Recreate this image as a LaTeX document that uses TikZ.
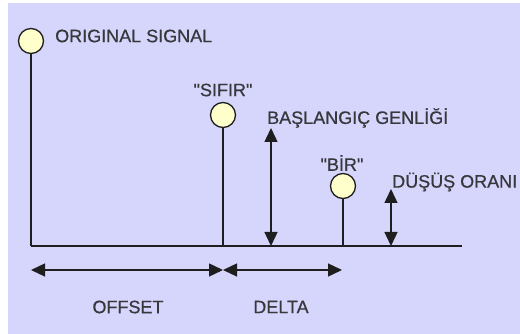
\documentclass[tikz,border=0pt]{standalone}
\usepackage{fontspec}
\setmainfont{Liberation Sans}[FakeBold=0.6]
\usetikzlibrary{arrows.meta}
\definecolor{bg}{RGB}{214,214,252}
\definecolor{dot}{RGB}{255,255,204}
\definecolor{ink}{RGB}{30,30,30}
\definecolor{txt}{RGB}{55,55,60}
\tikzset{
  sig/.style={circle, draw=ink, line width=1.3pt, fill=dot, minimum size=25pt, inner sep=0pt},
  stem/.style={draw=ink, line width=1.6pt},
  lbl/.style={text=txt, font=\fontsize{18}{19}\selectfont, inner sep=0pt},
  dim/.style={draw=ink, line width=1.4pt, {Triangle[length=14pt,width=13pt]}-{Triangle[length=14pt,width=13pt]}},
}
\begin{document}
\begin{tikzpicture}[x=1pt, y=-1pt]
\useasboundingbox (0,0) rectangle (520,334);
\fill[white] (0,0) rectangle (520,334);
\fill[bg] (8,3) rectangle (520,334);

% baseline
\coordinate (b0) at (31,246);
\coordinate (bend) at (462,246);
\draw[stem] (b0) -- (bend);

% stems and circles
\node[sig] (c1) at (31,41) {};
\node[sig] (c2) at (223,115) {};
\node[sig] (c3) at (343,186) {};
\coordinate (s1) at (31,246);
\coordinate (s2) at (223,246);
\coordinate (s3) at (343,246);
\draw[stem] (c1.south) -- (s1);
\draw[stem] (c2.south) -- (s2);
\draw[stem] (c3.south) -- (s3);

% vertical dimension arrows
\coordinate (a1t) at (271,128);
\coordinate (a1b) at (271,246);
\coordinate (a2t) at (391,189);
\coordinate (a2b) at (391,246);
\draw[dim] (a1t) -- (a1b);
\draw[dim] (a2t) -- (a2b);

% horizontal dimension arrows
\coordinate (h0) at (31,270);
\coordinate (h1) at (223,270);
\coordinate (h2) at (342,270);
\draw[dim] (h0) -- (h1);
\draw[dim] (h1) -- (h2);

% labels
\node[lbl, anchor=west] (tOrig) at (55,36) {ORIGINAL SIGNAL};
\node[lbl] (tSifir) at (223,90) {\textquotedbl SIFIR\textquotedbl};
\node[lbl, anchor=west] (tBas) at (267,118) {BAŞLANGIÇ GENLİĞİ};
\node[lbl] (tBir) at (342,163) {\textquotedbl BİR\textquotedbl};
\node[lbl, anchor=west] (tDus) at (392,182) {DÜŞÜŞ ORANI};
\node[lbl] (tOff) at (128,307) {OFFSET};
\node[lbl] (tDel) at (281,307) {DELTA};
\end{tikzpicture}
\end{document}
